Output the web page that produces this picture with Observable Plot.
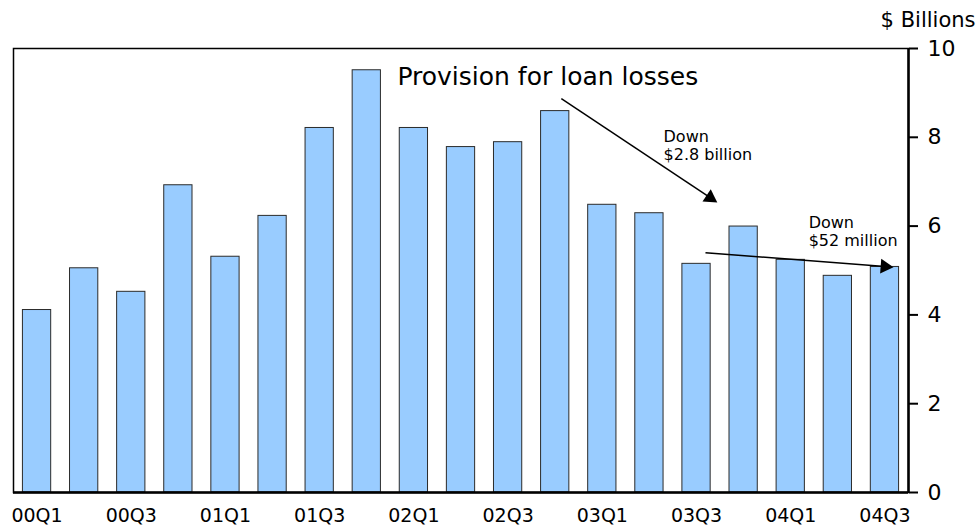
<!DOCTYPE html>
<html>
<head>
<meta charset="utf-8">
<script src="https://cdn.jsdelivr.net/npm/d3@7"></script>
<script src="https://cdn.jsdelivr.net/npm/@observablehq/plot@0.6"></script>
<style>
  html, body { margin: 0; padding: 0; background: #fff; }
  #chart svg { display: block; }
</style>
</head>
<body>
<div id="chart"></div>
<script>
// Quarterly provision for loan losses, $ billions
const quarters = [
  "00Q1", "00Q2", "00Q3", "00Q4",
  "01Q1", "01Q2", "01Q3", "01Q4",
  "02Q1", "02Q2", "02Q3", "02Q4",
  "03Q1", "03Q2", "03Q3", "03Q4",
  "04Q1", "04Q2", "04Q3"
];
const provisions = [
  4.11, 5.05, 4.52, 6.92,
  5.31, 6.23, 8.21, 9.51,
  8.21, 7.78, 7.89, 8.59,
  6.48, 6.29, 5.15, 5.99,
  5.24, 4.88, 5.08
];
const yTicks = [0, 2, 4, 6, 8, 10];
const labeledQuarters = quarters.map((q, i) => i).filter(i => i % 2 === 0);

// Annotation arrows, in (quarter index, $ billions)
const arrowShafts = [
  {x1: 11.13, y1: 8.87, x2: 14.29, y2: 6.64},
  {x1: 14.19, y1: 5.40, x2: 18.0, y2: 5.09}
];
const arrowHeads = [
  {x: 14.29, y: 6.64, angle: 123.7},
  {x: 18.0, y: 5.09, angle: 94.4}
];
const notes = [
  {x: 13.30, y: 8.17, text: "Down\n$2.8 billion"},
  {x: 16.38, y: 6.24, text: "Down\n$52 million"}
];

const table = quarters.map((q, i) => ({i, quarter: q, value: provisions[i]}));
const font = "'DejaVu Sans', Verdana, sans-serif";

const chart = Plot.plot({
  width: 979,
  height: 531,
  marginLeft: 13,
  marginRight: 71,
  marginTop: 48,
  marginBottom: 39,
  style: {fontFamily: font, background: "#fff", color: "#000"},
  x: {domain: [-0.5, quarters.length - 0.5], axis: null},
  y: {domain: [0, 10], axis: null},
  marks: [
    Plot.rectY(table, {
      x1: d => d.i - 0.3,
      x2: d => d.i + 0.3,
      y: "value",
      fill: "#99ccff",
      stroke: "#2b2b2b",
      strokeWidth: 1
    }),
    Plot.frame({stroke: "#000", strokeWidth: 1.5}),
    Plot.ruleX([quarters.length - 0.5], {stroke: "#000", strokeWidth: 2.5}),
    Plot.ruleY([0], {stroke: "#000", strokeWidth: 2.5}),
    Plot.axisY({
      anchor: "right",
      ticks: yTicks,
      tickSize: 9,
      tickPadding: 10,
      strokeWidth: 2,
      fontSize: 22,
      tickFormat: d => String(d),
      label: null
    }),
    Plot.axisX({
      ticks: labeledQuarters,
      tickFormat: i => quarters[i],
      tickSize: 0,
      tickPadding: 16,
      fontSize: 19,
      label: null
    }),
    Plot.text(["$ Billions"], {
      frameAnchor: "top-right",
      textAnchor: "end",
      lineAnchor: "middle",
      dx: 67,
      dy: -28,
      fontSize: 21,
      fill: "#000"
    }),
    Plot.text(["Provision for loan losses"], {
      x: 7.65,
      y: 9.57,
      textAnchor: "start",
      lineAnchor: "top",
      fontSize: 25,
      fill: "#000"
    }),
    Plot.link(arrowShafts, {
      x1: "x1", y1: "y1", x2: "x2", y2: "y2",
      stroke: "#000",
      strokeWidth: 1.5
    }),
    Plot.dot(arrowHeads, {
      x: "x", y: "y",
      symbol: "triangle",
      rotate: "angle",
      r: 5.5,
      fill: "#000",
      stroke: "none"
    }),
    Plot.text(notes, {
      x: "x", y: "y", text: "text",
      textAnchor: "start",
      lineAnchor: "top",
      lineHeight: 1.12,
      fontSize: 16,
      fill: "#000"
    })
  ]
});

document.getElementById("chart").append(chart);
</script>
</body>
</html>
